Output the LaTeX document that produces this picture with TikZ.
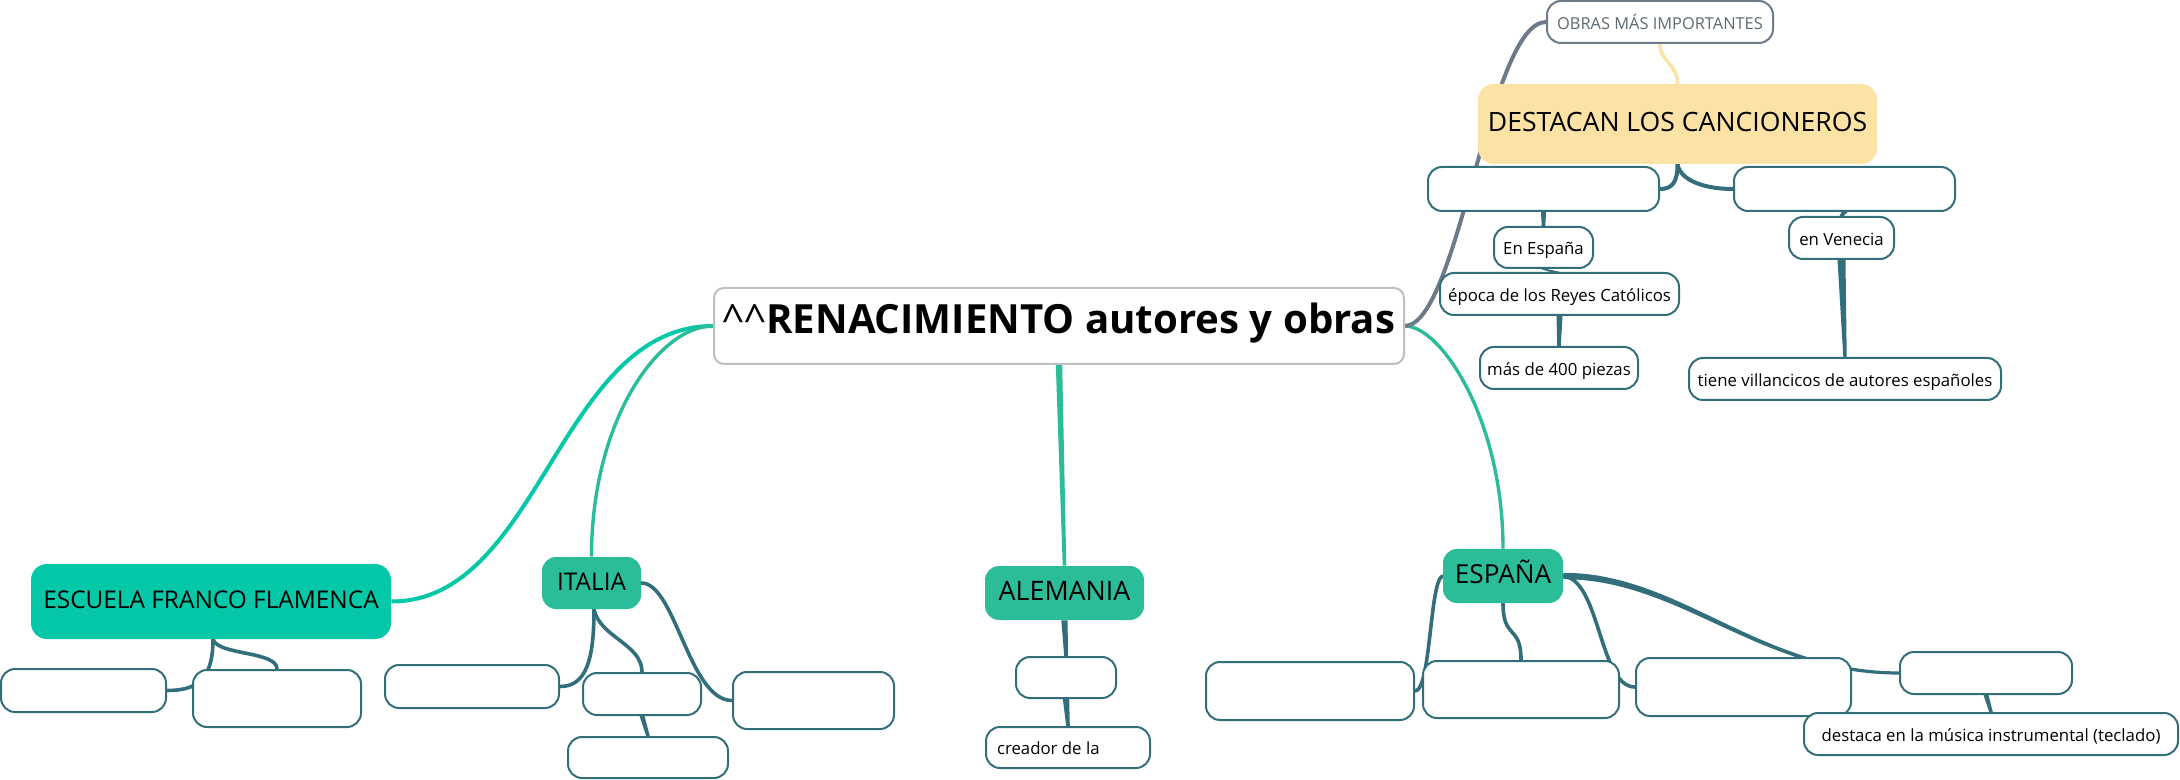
\documentclass[tikz,border=0pt]{standalone}
\usepackage{fontspec}
\setmainfont{Open Sans}
\usetikzlibrary{calc}
\pgfdeclarelayer{bg}
\pgfsetlayers{bg,main}
\definecolor{tealc}{HTML}{336E7B}
\definecolor{effc}{HTML}{05C8A8}
\definecolor{greenc}{HTML}{2BBC9A}
\definecolor{yelc}{HTML}{FCE2A5}
\definecolor{grayc}{HTML}{6D7A8A}
\definecolor{cenb}{HTML}{BFBFBF}
\definecolor{obrt}{HTML}{5E6A73}
\newcommand{\mmtaper}[5]{\fill[#1] ($(#2)+(-#4,0)$) -- ($(#2)+(#4,0)$) -- ($(#3)+(#5,0)$) -- ($(#3)+(-#5,0)$) -- cycle;}
\tikzset{
  sz/.style 2 args={minimum width={#1*0.5pt}, minimum height={#2*0.5pt}},
  base/.style={inner sep=0pt, text height=0.714em, text depth=0pt},
  leaf/.style={base, draw=tealc, line width=1pt, fill=white, rounded corners=7pt, font=\fontsize{8.4pt}{10pt}\selectfont},
  topic/.style={base, fill=greenc, rounded corners=7pt, font=\fontsize{12.2pt}{14pt}\selectfont},
  link/.style={draw=tealc, line width=1.8pt, line cap=round},
}
\begin{document}
\begin{tikzpicture}[x=0.5pt, y=-0.5pt]
\useasboundingbox (0,0) rectangle (2180,780);
% central
\node[base, draw=cenb, line width=1pt, fill=white, rounded corners=5pt, sz={690}{76}, font=\bfseries\fontsize{20.1pt}{24pt}\selectfont] (cen) at (1059,326) {{\mdseries\textasciicircum\textasciicircum}RENACIMIENTO autores y obras};
% main topics
\node[topic, fill=effc, rounded corners=8pt, sz={360}{75}] (eff) at (211,601.5) {ESCUELA FRANCO FLAMENCA};
\node[topic, sz={99}{52}] (ita) at (591.5,583) {ITALIA};
\node[topic, sz={159}{54}, font=\fontsize{13.4pt}{16pt}\selectfont] (ale) at (1064.5,593) {ALEMANIA};
\node[topic, sz={120}{54}, font=\fontsize{13.1pt}{16pt}\selectfont] (esp) at (1503,576) {ESPAÑA};
\node[topic, fill=yelc, rounded corners=8pt, sz={399}{80}, font=\fontsize{13.3pt}{16pt}\selectfont] (des) at (1677.5,124) {DESTACAN LOS CANCIONEROS};
\node[leaf, draw=grayc, text=obrt, sz={226}{42}, font=\fontsize{8.2pt}{10pt}\selectfont] (obr) at (1660,22) {OBRAS MÁS IMPORTANTES};
% cancioneros
\node[leaf, sz={231}{44}] (f1) at (1543.5,189) {};
\node[leaf, sz={221}{44}] (f2) at (1844.5,189) {};
\node[leaf, sz={99}{41}] (enesp) at (1543.5,247.5) {En España};
\node[leaf, sz={239}{42}] (epoca) at (1559.5,294) {época de los Reyes Católicos};
\node[leaf, sz={158}{42}] (mas) at (1559,368) {más de 400 piezas};
\node[leaf, sz={105}{42}] (ven) at (1841.5,238) {en Venecia};
\node[leaf, sz={312}{42}] (tiene) at (1845,379) {tiene villancicos de autores españoles};
% escuela
\node[leaf, sz={165}{43}] (eff1) at (83.5,690.5) {};
\node[leaf, sz={168}{57}] (eff2) at (277,698.5) {};
% italia
\node[leaf, sz={174}{43}] (ita1) at (472,686.5) {};
\node[leaf, sz={118}{42}] (ita2) at (642,694) {};
\node[leaf, sz={160}{41}] (ita3) at (648,757.5) {};
\node[leaf, sz={161}{57}] (ita4) at (813.5,700.5) {};
% alemania
\node[leaf, sz={100}{41}] (ale1) at (1066,677.5) {};
\node[leaf, sz={164}{41}] (ale2) at (1068,747.5) {\makebox[71pt][l]{creador de la}};
% espana
\node[leaf, sz={208}{58}] (e1) at (1310,691) {};
\node[leaf, sz={196}{57}] (e2) at (1521,689.5) {};
\node[leaf, sz={215}{58}] (e3) at (1743.5,687) {};
\node[leaf, sz={172}{42}] (e4) at (1986,673) {};
\node[leaf, sz={374}{42}] (e5) at (1991,734) {destaca en la música instrumental (teclado)};
\begin{pgfonlayer}{bg}
% from central
\draw[effc, line width=2pt] (cen.west) .. controls +(-154,0) and +(149,0) .. (eff.east);
\draw[greenc, line width=1.7pt] (cen.west) .. controls +(-54,0) and +(0,-137) .. (ita.north);
\draw[greenc, line width=1.7pt] (cen.east) .. controls +(36,0) and +(0,-129) .. (esp.north);
\draw[grayc, line width=2pt] (cen.east) .. controls +(54,-2) and +(-57,0) .. (obr.west);
\mmtaper{greenc}{cen.south}{ale.north}{3.2}{1.8}
% cancioneros
\draw[yelc, line width=1.8pt] (obr.south) .. controls +(0,18) and +(0,-20) .. (des.north);
\draw[link, line width=2pt] (des.south) .. controls +(0,18) and +(12,0) .. (f1.east);
\draw[link, line width=2pt] (des.south) .. controls +(3,16) and +(-29,0) .. (f2.west);
\mmtaper{tealc}{f1.south}{enesp.north}{2.5}{1.8}
\mmtaper{tealc}{enesp.south}{$(epoca.north)+(-4,0)$}{3}{5}
\mmtaper{tealc}{epoca.south}{mas.north}{3}{1.8}
\mmtaper{tealc}{f2.south}{ven.north}{3}{2}
\mmtaper{tealc}{ven.south}{tiene.north}{4}{1.7}
% escuela
\draw[link] ($(eff.south)+(2,0)$) .. controls +(0,41) and +(29,0) .. (eff1.east);
\draw[link] ($(eff.south)+(2,0)$) .. controls +(5,16) and +(0,-18) .. (eff2.north);
% italia
\draw[link] ($(ita.south)+(2.5,0)$) .. controls +(0,51) and +(26,0) .. (ita1.east);
\draw[link] ($(ita.south)+(2.5,0)$) .. controls +(6,28) and +(0,-28) .. (ita2.north);
\draw[link] (ita.east) .. controls +(34,0) and +(-43,0) .. (ita4.west);
\mmtaper{tealc}{ita2.south}{ita3.north}{2.5}{1.8}
% alemania
\mmtaper{tealc}{ale.south}{ale1.north}{3.2}{1.8}
\mmtaper{tealc}{ale1.south}{ale2.north}{3.2}{1.8}
% espana
\draw[link] (esp.west) .. controls +(-13,4) and +(16,0) .. (e1.east);
\draw[link] (esp.south) .. controls +(0,37) and +(0,-36) .. (e2.north);
\draw[link] (esp.east) .. controls +(37,4) and +(-36,0) .. (e3.west);
\fill[tealc] ($(esp.east)+(0,-3.2)$) .. controls +(117,0) and +(-140,0) .. ($(e4.west)+(0,-1.6)$) -- ($(e4.west)+(0,1.6)$) .. controls +(-140,0) and +(117,0) .. ($(esp.east)+(0,3.2)$) -- cycle;
\mmtaper{tealc}{e4.south}{e5.north}{2.5}{1.8}
\end{pgfonlayer}
\end{tikzpicture}
\end{document}
